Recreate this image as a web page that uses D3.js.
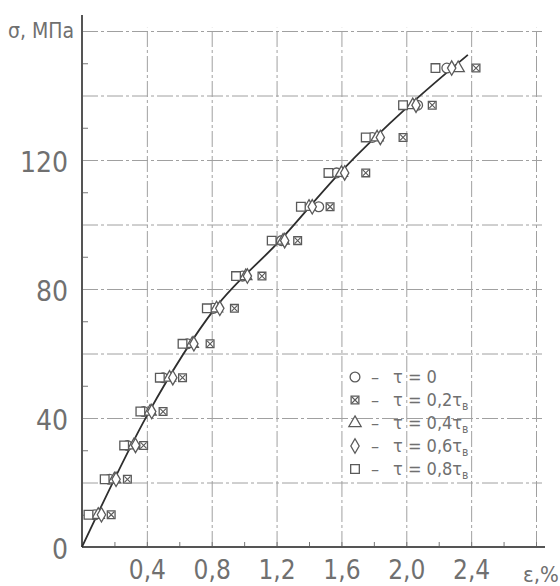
<!DOCTYPE html>
<html>
<head>
<meta charset="utf-8">
<script src="https://cdn.jsdelivr.net/npm/d3@7"></script>
<style>
  body { margin: 0; background: #fff; }
  svg { display: block; }
  text { font-family: "Liberation Sans Narrow", "DejaVu Sans Condensed", "Liberation Sans", sans-serif; fill: #707070; }
</style>
</head>
<body>
<svg id="chart" width="560" height="586"></svg>
<script>
// stress levels, MPa (one row of markers per level)
var sigmaLevels = [10, 21, 31.5, 42, 52.5, 63, 74, 84, 95, 105.5, 116, 127, 137, 148.5];

// strain, % per series at each level
var epsTau0   = [0.08, 0.17, 0.28, 0.38, 0.50, 0.65, 0.81, 0.99, 1.23, 1.46, 1.57, 1.79, 2.07, 2.25];
var epsTau02  = [0.18, 0.28, 0.38, 0.50, 0.62, 0.79, 0.94, 1.11, 1.33, 1.53, 1.75, 1.98, 2.16, 2.43];
var epsTau04  = [0.10, 0.20, 0.32, 0.42, 0.54, 0.68, 0.83, 1.01, 1.24, 1.40, 1.60, 1.82, 2.04, 2.32];
var epsTau06  = [0.12, 0.21, 0.33, 0.43, 0.56, 0.69, 0.85, 1.02, 1.25, 1.42, 1.62, 1.84, 2.06, 2.28];
var epsTau08  = [0.04, 0.14, 0.26, 0.36, 0.48, 0.62, 0.77, 0.95, 1.17, 1.35, 1.52, 1.75, 1.98, 2.18];

// fitted curve
var curveEps   = [0, 0.41, 0.82, 1.22, 1.59, 2.02, 2.38];
var curveSigma = [0, 41.6, 74, 95, 116, 137, 152.6];

var yLabelTicks = [0, 40, 80, 120];
var yGridTicks = [20, 40, 60, 80, 100, 120, 140, 160];
var yMinorTicks = [10, 30, 50, 70, 90, 110, 130, 150];
var xLabelTicks = [0.4, 0.8, 1.2, 1.6, 2.0, 2.4];
var xGridTicks = [0.4, 0.8, 1.2, 1.6, 2.0, 2.4, 2.8];
var xMinorTicks = [0.2, 0.6, 1.0, 1.4, 1.8, 2.2, 2.6];

var seriesNames = ["τ = 0", "τ = 0,2τ", "τ = 0,4τ", "τ = 0,6τ", "τ = 0,8τ"];
var seriesShapes = ["circle", "boxx", "triangle", "diamond", "square"];
var seriesEps = [epsTau0, epsTau02, epsTau04, epsTau06, epsTau08];

var svg = d3.select("#chart");
var x = d3.scaleLinear().domain([0, 2.8]).range([82, 536]);
var y = d3.scaleLinear().domain([0, 160]).range([547, 31]);

// grid
var grid = svg.append("g").attr("class", "grid");
grid.append("g")
  .attr("transform", "translate(" + x(0) + ",0)")
  .call(d3.axisLeft(y).tickValues(yGridTicks).tickSize(-(x(2.8) + 6 - x(0))).tickFormat(""))
  .call(function(g){ g.select(".domain").remove(); });
grid.append("g")
  .attr("transform", "translate(0," + y(0) + ")")
  .call(d3.axisBottom(x).tickValues(xGridTicks).tickSize(-(y(0) - y(161))).tickFormat(""))
  .call(function(g){ g.select(".domain").remove(); });
grid.selectAll("line")
  .attr("stroke", "#a0a0a0")
  .attr("stroke-width", 1)
  .attr("stroke-dasharray", "16,3,3,3");

// minor ticks
svg.append("g")
  .attr("transform", "translate(" + x(0) + ",0)")
  .call(d3.axisLeft(y).tickValues(yMinorTicks).tickSize(-6).tickFormat(""))
  .call(function(g){ g.select(".domain").remove(); g.selectAll("line").attr("stroke", "#777"); });
svg.append("g")
  .attr("transform", "translate(0," + y(0) + ")")
  .call(d3.axisBottom(x).tickValues(xMinorTicks.concat(xGridTicks)).tickSize(-5).tickFormat(""))
  .call(function(g){ g.select(".domain").remove(); g.selectAll("line").attr("stroke", "#777"); });

// axis lines
svg.append("line").attr("x1", x(0)).attr("x2", x(0)).attr("y1", 15).attr("y2", y(0))
  .attr("stroke", "#555").attr("stroke-width", 2);
svg.append("line").attr("x1", x(0)).attr("x2", 545).attr("y1", y(0)).attr("y2", y(0))
  .attr("stroke", "#555").attr("stroke-width", 2.2);

// tick labels
var yAx = svg.append("g")
  .attr("transform", "translate(" + x(0) + ",0)")
  .call(d3.axisLeft(y).tickValues(yLabelTicks).tickSize(0).tickPadding(14));
yAx.select(".domain").remove();
yAx.selectAll("text")
  .attr("font-size", 28)
  .attr("dy", "0.42em")
  .attr("font-family", null)
  .attr("fill", null);

var xAx = svg.append("g")
  .attr("transform", "translate(0," + y(0) + ")")
  .call(d3.axisBottom(x).tickValues(xLabelTicks).tickSize(0).tickPadding(14)
    .tickFormat(function(d){ return d3.format(".1f")(d).replace(".", ","); }));
xAx.select(".domain").remove();
xAx.selectAll("text")
  .attr("font-size", 26)
  .attr("font-family", null)
  .attr("fill", null);

svg.append("text").attr("x", 8).attr("y", 38).attr("font-size", 21).text("σ, МПа");
svg.append("text").attr("x", 523).attr("y", 582).attr("font-size", 22).text("ε,%");

// curve
var line = d3.line()
  .x(function(d){ return x(d[0]); })
  .y(function(d){ return y(d[1]); })
  .curve(d3.curveMonotoneX);
svg.append("path")
  .datum(d3.zip(curveEps, curveSigma))
  .attr("d", line)
  .attr("fill", "none")
  .attr("stroke", "#2e2e2e")
  .attr("stroke-width", 1.8);

// markers
function drawMarker(g, shape) {
  var sym = {
    circle: d3.symbolCircle, triangle: d3.symbolTriangle,
    diamond: d3.symbolDiamond, square: d3.symbolSquare, boxx: d3.symbolSquare
  }[shape];
  var size = {circle: 75, triangle: 65, diamond: 60, square: 75, boxx: 60}[shape];
  g.append("path")
    .attr("d", d3.symbol().type(sym).size(size)())
    .attr("fill", "#fff")
    .attr("stroke", "#5a5a5a")
    .attr("stroke-width", 1.3);
  if (shape === "boxx") {
    g.append("path").attr("d", "M-3,-3L3,3M-3,3L3,-3")
      .attr("stroke", "#5a5a5a").attr("stroke-width", 1.1);
  }
}

var marks = svg.append("g").attr("class", "marks");
seriesEps.forEach(function(eps, si){
  eps.forEach(function(e, i){
    var g = marks.append("g")
      .attr("transform", "translate(" + x(e) + "," + y(sigmaLevels[i]) + ")");
    drawMarker(g, seriesShapes[si]);
  });
});

// legend
var legend = svg.append("g").attr("transform", "translate(355,377)");
seriesNames.forEach(function(name, i){
  var row = legend.append("g").attr("transform", "translate(0," + (i * 23) + ")");
  drawMarker(row, seriesShapes[i]);
  row.append("text").attr("x", 16).attr("y", 6).attr("font-size", 18).text("–");
  var t = row.append("text").attr("x", 38).attr("y", 6).attr("font-size", 18).text(name);
  if (i > 0) t.append("tspan").attr("font-size", 12).attr("dy", 4).text("в");
});
</script>
</body>
</html>
